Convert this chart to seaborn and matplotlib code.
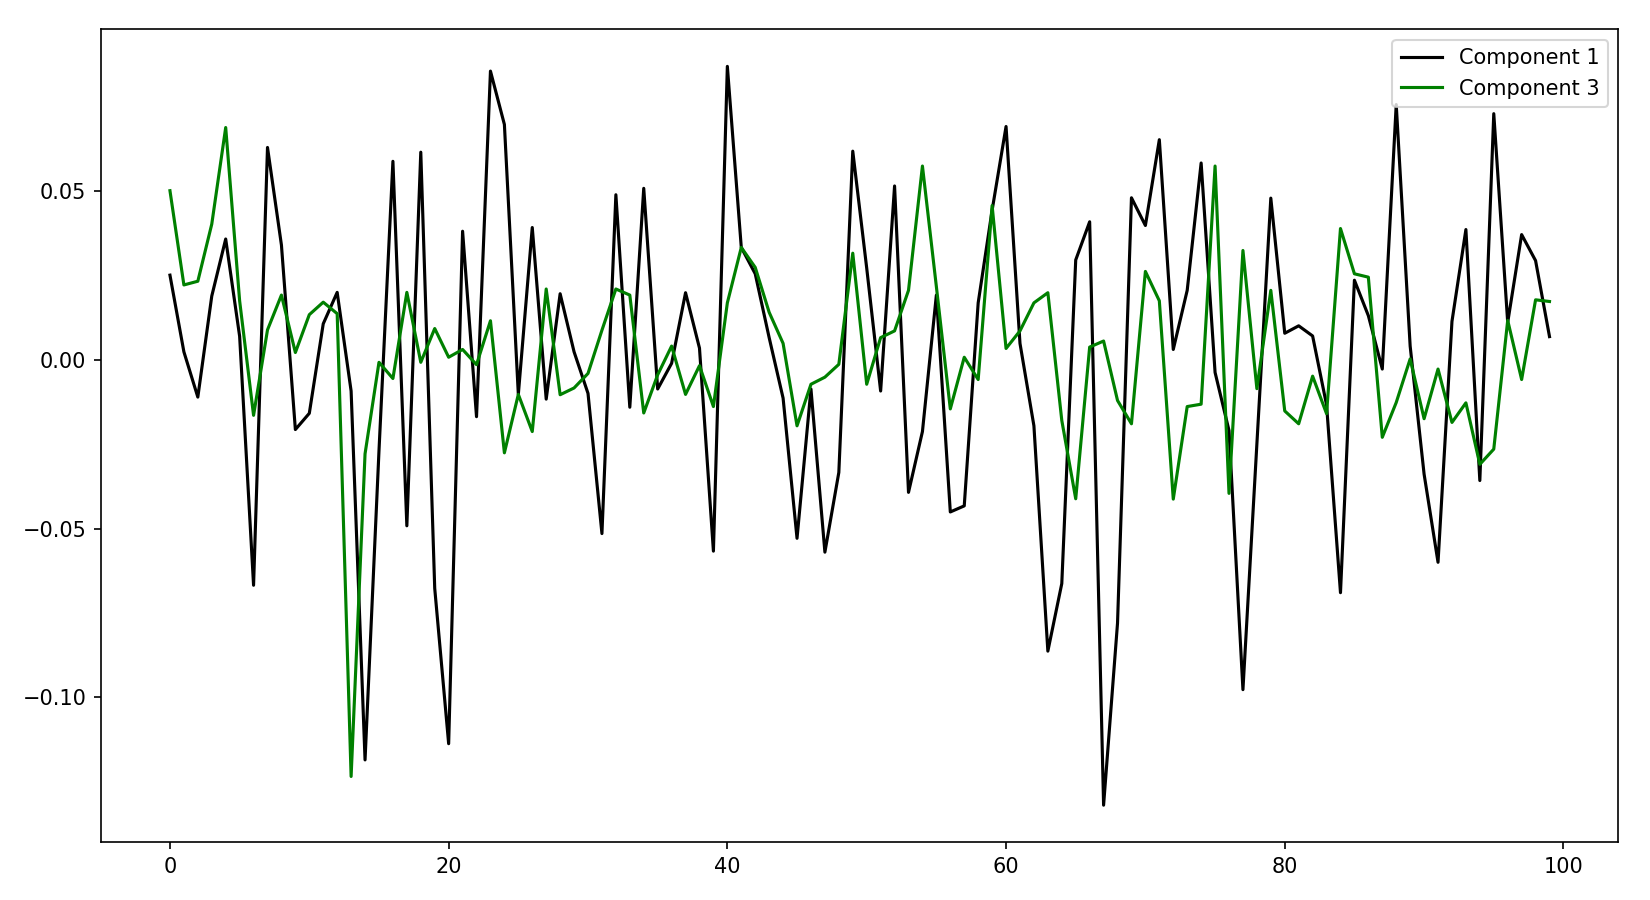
import numpy as np
import pandas as pd
import matplotlib
matplotlib.use("Agg")
import matplotlib.pyplot as plt
import seaborn as sns

component_1 = [
    0.025, 0.0023, -0.0111, 0.0188, 0.0357, 0.0069, -0.0668, 0.0628, 0.0339, -0.0207,
    -0.0159, 0.0106, 0.0199, -0.0093, -0.1185, -0.027, 0.0587, -0.0492, 0.0614, -0.0677,
    -0.1137, 0.038, -0.0169, 0.0854, 0.0696, -0.0103, 0.0391, -0.0117, 0.0195, 0.0023,
    -0.010, -0.0515, 0.0488, -0.0141, 0.0507, -0.0087, -0.0011, 0.0198, 0.0034, -0.0567,
    0.0868, 0.0332, 0.0254, 0.0065, -0.0114, -0.0529, -0.0087, -0.057, -0.0334, 0.0617,
    0.0271, -0.0093, 0.0514, -0.0393, -0.0213, 0.0191, -0.0451, -0.0433, 0.0168, 0.0442,
    0.069, 0.0048, -0.0196, -0.0863, -0.0663, 0.0295, 0.0408, -0.1319, -0.078, 0.0479,
    0.0397, 0.0651, 0.003, 0.0205, 0.0582, -0.0038, -0.021, -0.0977, -0.025, 0.0478,
    0.0078, 0.0100, 0.0070, -0.0134, -0.0690, 0.0235, 0.0130, -0.0028, 0.0755, 0.0040,
    -0.0339, -0.0600, 0.0113, 0.0385, -0.0358, 0.0728, 0.011, 0.0370, 0.0293, 0.0068,
]

component_3 = [
    0.050, 0.0221, 0.0232, 0.0401, 0.0687, 0.0174, -0.0165, 0.0088, 0.0191, 0.0021,
    0.0133, 0.017, 0.0136, -0.1234, -0.0279, -0.0008, -0.0056, 0.0199, -0.0008, 0.0092,
    0.0007, 0.003, -0.0015, 0.0115, -0.0276, -0.0103, -0.0213, 0.0209, -0.0104, -0.0084,
    -0.0041, 0.0087, 0.0209, 0.0191, -0.0158, -0.0045, 0.004, -0.0103, -0.0018, -0.0139,
    0.0168, 0.0332, 0.0273, 0.014, 0.0048, -0.0196, -0.0073, -0.0052, -0.0014, 0.0315,
    -0.0073, 0.0065, 0.0085, 0.0205, 0.0573, 0.0216, -0.0146, 0.0007, -0.0059, 0.0456,
    0.0033, 0.0085, 0.0168, 0.0198, -0.018, -0.0412, 0.0037, 0.0055, -0.0121, -0.019,
    0.0261, 0.0174, -0.0413, -0.0139, -0.0132, 0.0573, -0.0396, 0.0323, -0.0086, 0.0205,
    -0.0152, -0.019, -0.0049, -0.016, 0.0388, 0.0254, 0.0244, -0.023, -0.0127, 0.0002,
    -0.0175, -0.0028, -0.0186, -0.0128, -0.031, -0.0265, 0.0116, -0.0059, 0.0177, 0.0172,
]

series_names = ["Component 1", "Component 3"]
series_colors = ["black", "green"]

index = np.arange(len(component_1))
df = pd.concat([
    pd.DataFrame({"index": index, "value": component_1, "series": series_names[0]}),
    pd.DataFrame({"index": index, "value": component_3, "series": series_names[1]}),
])

fig, ax = plt.subplots(figsize=(11, 6), dpi=150)
sns.lineplot(data=df, x="index", y="value", hue="series",
             palette=dict(zip(series_names, series_colors)),
             linewidth=1.5, ax=ax, legend=True)
handles, labels = ax.get_legend_handles_labels()
ax.legend(handles, labels, loc="upper right")
ax.set_xlabel("")
ax.set_ylabel("")
ax.set_xticks([0, 20, 40, 60, 80, 100])
ax.set_yticks([-0.10, -0.05, 0.00, 0.05])
fig.subplots_adjust(left=0.0612, right=0.9809, top=0.9673, bottom=0.0643)
fig.savefig("out.png", dpi=150)
